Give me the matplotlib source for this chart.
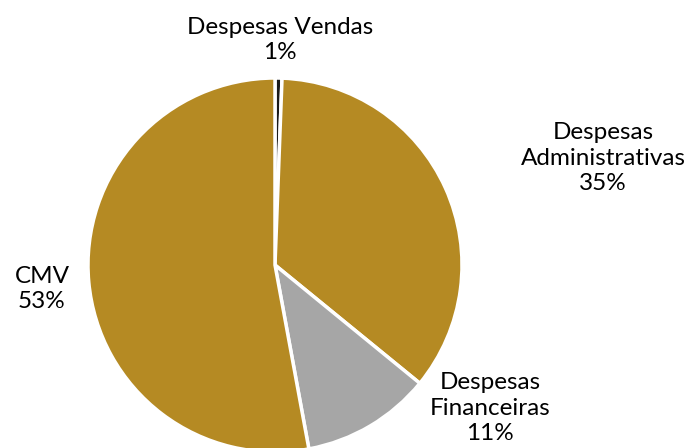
import matplotlib
matplotlib.use("Agg")
import matplotlib.pyplot as plt

labels = ["Despesas Vendas", "Despesas\nAdministrativas", "Despesas\nFinanceiras", "CMV"]
values = [0.6, 35.3, 11.2, 52.9]
pct_text = ["1%", "35%", "11%", "53%"]
colors = ["#1a1a1a", "#b58a23", "#a6a6a6", "#b58a23"]

plt.rcParams["font.family"] = ["Lato", "DejaVu Sans"]

fig = plt.figure(figsize=(6.93, 4.48), dpi=100)
ax = fig.add_axes([0, 0, 1, 1])
ax.set_xlim(0, 693)
ax.set_ylim(0, 448)
ax.set_aspect("equal")

ax.pie(values, colors=colors, startangle=90, counterclock=False,
       center=(275, 183), radius=187, frame=True,
       wedgeprops=dict(edgecolor="white", linewidth=2.5))
ax.axis("off")

# label positions (layout only)
label_pos = [(280, 408), (603, 290), (490, 40), (42, 159)]
for lab, pct, (x, y) in zip(labels, pct_text, label_pos):
    ax.text(x, y, lab + "\n" + pct, ha="center", va="center",
            fontsize=17.5, linespacing=1.28, color="black")

fig.savefig("out.png", dpi=100)
